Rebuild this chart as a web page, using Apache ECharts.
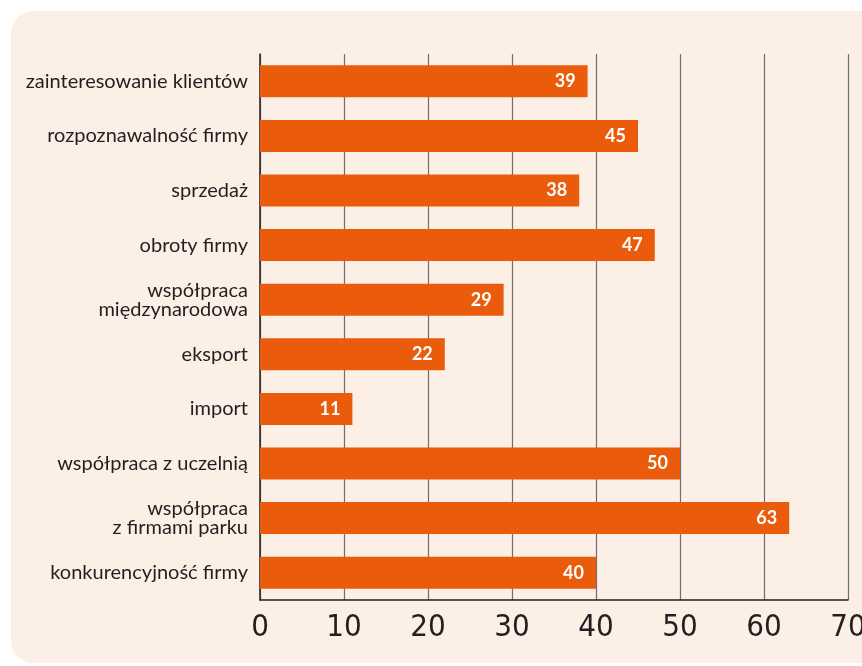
<!DOCTYPE html>
<html>
<head>
<meta charset="utf-8">
<script src="https://cdn.jsdelivr.net/npm/echarts@6/dist/echarts.min.js"></script>
<style>
  html, body { margin: 0; padding: 0; background: #ffffff; }
  #main { width: 862px; height: 666px; }
</style>
</head>
<body>
<div id="main"></div>
<script>
// kategorie od góry do dołu
const categories = [
  'zainteresowanie klientów',
  'rozpoznawalność firmy',
  'sprzedaż',
  'obroty firmy',
  'współpraca\nmiędzynarodowa',
  'eksport',
  'import',
  'współpraca z uczelnią',
  'współpraca\nz firmami parku',
  'konkurencyjność firmy'
]
const values = [39, 45, 38, 47, 29, 22, 11, 50, 63, 40]
const xTicks = [0, 10, 20, 30, 40, 50, 60, 70]

const chart = echarts.init(document.getElementById('main'), null, { renderer: 'canvas' })

const option = {
  animation: false,
  backgroundColor: '#ffffff',
  graphic: [{
    type: 'rect',
    z: -10,
    shape: { x: 11, y: 11, width: 870, height: 652, r: 22 },
    style: { fill: '#fcefe6' }
  }],
  grid: { left: 260, right: 14, top: 54, bottom: 66, outerBoundsMode: 'none', containLabel: false },
  xAxis: {
    type: 'value',
    min: xTicks[0],
    max: xTicks[xTicks.length - 1],
    interval: 10,
    axisLine: { show: true, lineStyle: { color: '#231f20', width: 1.5 } },
    axisTick: { show: false },
    splitLine: { show: true, lineStyle: { color: '#6f6f6f', width: 1.2 } },
    axisLabel: {
      color: '#231f20',
      fontSize: 31,
      fontFamily: '"DejaVu Sans Condensed", "Liberation Sans Narrow", sans-serif',
      margin: 12
    }
  },
  yAxis: {
    type: 'category',
    data: categories,
    inverse: true,
    axisLine: { show: true, lineStyle: { color: '#231f20', width: 1.5 } },
    axisTick: { show: false },
    axisLabel: {
      color: '#231f20',
      fontSize: 20,
      lineHeight: 19,
      fontFamily: 'Lato, sans-serif',
      margin: 12,
      align: 'right'
    }
  },
  series: [{
    type: 'bar',
    data: values,
    barWidth: 32,
    itemStyle: { color: '#ea5b0c' },
    label: {
      show: true,
      position: 'insideRight',
      distance: 12,
      color: '#ffffff',
      fontWeight: 'bold',
      fontSize: 18,
      fontFamily: 'Lato, sans-serif'
    }
  }]
}

chart.setOption(option)
</script>
</body>
</html>
